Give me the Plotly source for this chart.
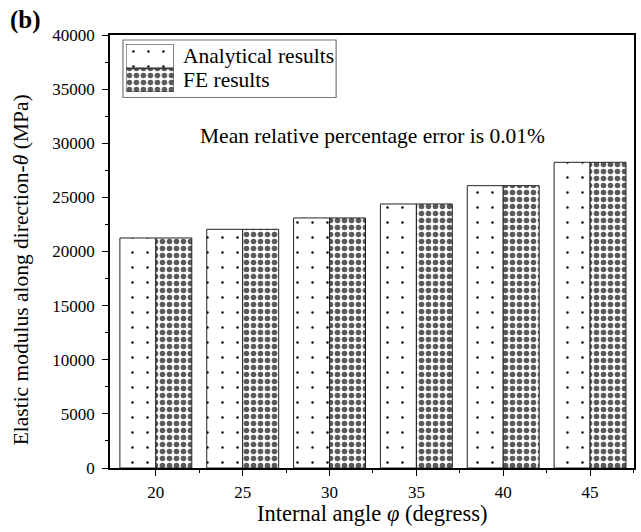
import plotly.graph_objects as go

# Internal angle (degrees) and elastic modulus along direction-θ (MPa)
angles = [20, 25, 30, 35, 40, 45]
analytical = [21250, 22050, 23100, 24390, 26080, 28240]
fe_results = [21250, 22050, 23100, 24390, 26080, 28240]
series_names = ["Analytical results", "FE results"]
y_ticks = [0, 5000, 10000, 15000, 20000, 25000, 30000, 35000, 40000]

FONT = "Liberation Serif"
W, H = 641, 532
ML, MR, MT, MB = 110, 5, 35, 64

dot_pattern = dict(shape=".", size=15, solidity=0.02, fgcolor="#000000",
                   bgcolor="#ffffff", fillmode="replace")
check_pattern = dict(shape=".", size=7, solidity=0.5, fgcolor="#5a5a5a",
                     bgcolor="#ffffff", fillmode="replace")
outline = dict(color="#222222", width=1)

fig = go.Figure()
fig.add_trace(go.Bar(x=angles, y=analytical, name=series_names[0],
                     marker=dict(color="#ffffff", pattern=dot_pattern, line=outline),
                     showlegend=False))
fig.add_trace(go.Bar(x=angles, y=fe_results, name=series_names[1],
                     marker=dict(color="#ffffff", pattern=check_pattern, line=outline),
                     showlegend=False))

# Legend swatches drawn on a small inset axis
fig.add_trace(go.Bar(x=[0], y=[1], base=[1], width=[1], offset=-0.5,
                     marker=dict(color="#ffffff", pattern=dot_pattern, line=outline),
                     xaxis="x2", yaxis="y2", showlegend=False, hoverinfo="skip"))
fig.add_trace(go.Bar(x=[0], y=[0.97], base=[0], width=[1], offset=-0.5,
                     marker=dict(color="#ffffff", pattern=check_pattern, line=outline),
                     xaxis="x2", yaxis="y2", showlegend=False, hoverinfo="skip"))

pw = W - ML - MR
ph = H - MT - MB


def px_x(x):
    return (x - ML) / pw


def px_y(y):
    return (H - MB - y) / ph


tick_font = dict(family=FONT, size=17, color="#000000")

fig.update_layout(
    width=W, height=H,
    margin=dict(l=ML, r=MR, t=MT, b=MB, pad=0),
    paper_bgcolor="#ffffff", plot_bgcolor="#ffffff",
    font=dict(family=FONT, size=17, color="#000000"),
    barmode="group", bargap=0.172, bargroupgap=0,
    xaxis=dict(range=[17.36, 47.53], tickvals=angles, ticks="outside", ticklen=6,
               tickwidth=1, tickcolor="#000", showline=True, linecolor="#000",
               linewidth=1.5, mirror=True, showgrid=False, zeroline=False,
               tickfont=tick_font, ticklabelstandoff=2,
               minor=dict(tickvals=[22.5, 27.5, 32.5, 37.5, 42.5, 47.5],
                          ticks="outside", ticklen=3, tickcolor="#000")),
    yaxis=dict(range=[0, 40000], tickvals=y_ticks, tickformat="d",
               ticks="outside", ticklen=6,
               tickwidth=1, tickcolor="#000", showline=True, linecolor="#000",
               linewidth=1.5, mirror=True, showgrid=False, zeroline=False,
               tickfont=tick_font, ticklabelstandoff=4,
               minor=dict(dtick=2500, ticks="outside", ticklen=3, tickcolor="#000")),
    xaxis2=dict(domain=[px_x(126), px_x(174)], anchor="y2", range=[-0.5, 0.5],
                visible=False, fixedrange=True),
    yaxis2=dict(domain=[px_y(92), px_y(44)], anchor="x2", range=[0, 2],
                visible=False, fixedrange=True),
)

# Legend frame and labels
fig.add_shape(type="rect", xref="paper", yref="paper",
              x0=px_x(123), x1=px_x(337), y0=px_y(97.5), y1=px_y(40),
              line=dict(color="#777777", width=1.2), fillcolor="rgba(0,0,0,0)",
              layer="below")
label_font = dict(family=FONT, size=21.5, color="#000000")
fig.add_annotation(text=series_names[0], xref="paper", yref="paper",
                   x=px_x(181), y=px_y(56), xanchor="left", yanchor="middle",
                   showarrow=False, font=label_font)
fig.add_annotation(text=series_names[1], xref="paper", yref="paper",
                   x=px_x(181), y=px_y(80), xanchor="left", yanchor="middle",
                   showarrow=False, font=label_font)

fig.add_annotation(text="Mean relative percentage error is 0.01%",
                   xref="paper", yref="paper", x=px_x(374), y=px_y(136),
                   xanchor="center", yanchor="middle", showarrow=False,
                   font=label_font)

fig.add_annotation(text="<b>(b)</b>", xref="paper", yref="paper",
                   x=px_x(8), y=px_y(20), xanchor="left", yanchor="middle",
                   showarrow=False, font=dict(family=FONT, size=25, color="#000000"))

fig.add_annotation(text="Internal angle <i>φ</i> (degress)", xref="paper", yref="paper",
                   x=0.5, y=px_y(513), xanchor="center", yanchor="middle",
                   showarrow=False, font=dict(family=FONT, size=22.5, color="#000000"))

fig.add_annotation(text="Elastic modulus along direction-<i>θ</i> (MPa)",
                   xref="paper", yref="paper", x=px_x(21), y=px_y(270),
                   xanchor="center", yanchor="middle", textangle=-90,
                   showarrow=False, font=label_font)

fig.write_html("out.html")
